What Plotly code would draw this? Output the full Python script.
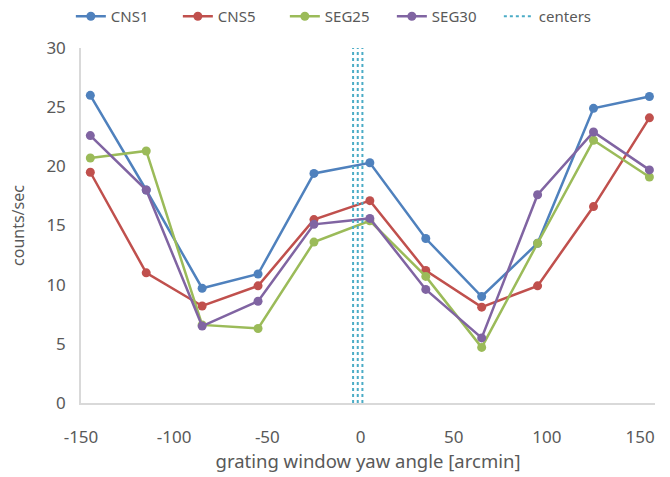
import plotly.graph_objects as go

angles = [-145, -115, -85, -55, -25, 5, 35, 65, 95, 125, 155]
cns1 = [26.0, 18.0, 9.7, 10.9, 19.4, 20.3, 13.9, 9.0, 13.5, 24.9, 25.9]
cns5 = [19.5, 11.0, 8.2, 9.9, 15.5, 17.1, 11.2, 8.1, 9.9, 16.6, 24.1]
seg25 = [20.7, 21.3, 6.6, 6.3, 13.6, 15.4, 10.7, 4.7, 13.5, 22.2, 19.1]
seg30 = [22.6, 18.0, 6.5, 8.6, 15.1, 15.6, 9.6, 5.5, 17.6, 22.9, 19.7]
centers = [-4, -1.5, 1]
x_ticks = [-150, -100, -50, 0, 50, 100, 150]
x_labels = ["-150", "-100", "-50", "0", "50", "100", "150"]
y_ticks = [0, 5, 10, 15, 20, 25, 30]

series = [("CNS1", cns1, "#4F81BD"), ("CNS5", cns5, "#C0504D"),
          ("SEG25", seg25, "#9BBB59"), ("SEG30", seg30, "#8064A2")]

fig = go.Figure()
for name, vals, col in series:
    fig.add_trace(go.Scatter(x=angles, y=vals, name=name, mode="lines+markers",
                             line=dict(color=col, width=2.5),
                             marker=dict(color=col, size=9)))

cx, cy = [], []
for c in centers:
    cx += [c, c, None]
    cy += [0, 30, None]
fig.add_trace(go.Scatter(x=cx, y=cy, name="centers", mode="lines",
                         line=dict(color="#4BACC6", width=2, dash="dot")))

gray = "#595959"
fig.update_layout(
    width=670, height=477,
    margin=dict(l=81, r=15, t=48, b=74, autoexpand=False),
    paper_bgcolor="white", plot_bgcolor="white",
    font=dict(family="Noto Sans, Open Sans, sans-serif", color=gray),
    showlegend=True,
    legend=dict(orientation="h", xref="container", yref="container",
                x=0.505, xanchor="center", y=1.0, yanchor="top",
                font=dict(size=15, color=gray),
                entrywidth=62, entrywidthmode="pixels",
                traceorder="normal"),
)
fig.update_xaxes(range=[-150, 158], tickvals=x_ticks, ticktext=x_labels,
                 showgrid=False, zeroline=False, showline=True,
                 linecolor="#D9D9D9", linewidth=1.5, automargin=False,
                 tickfont=dict(size=17, color=gray), ticklabelstandoff=18,
                 title=dict(text="grating window yaw angle [arcmin]",
                            font=dict(size=18.5, color=gray), standoff=7))
fig.update_yaxes(range=[0, 30], tickvals=y_ticks,
                 showgrid=False, zeroline=False, showline=True,
                 linecolor="#D9D9D9", linewidth=1.5, automargin=False,
                 tickfont=dict(size=17, color=gray), ticklabelstandoff=10,
                 title=dict(text="counts/sec", font=dict(size=16, color=gray),
                            standoff=18))

fig.write_html("out.html",
               config={"displayModeBar": False},
               post_script="document.body.style.margin='0';document.body.style.padding='0';")
